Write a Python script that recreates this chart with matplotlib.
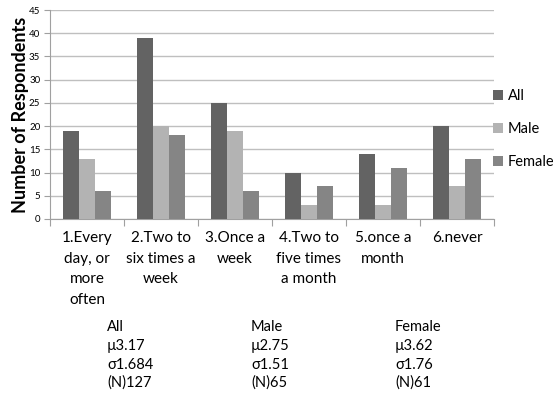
import matplotlib
matplotlib.use("Agg")
import matplotlib.pyplot as plt
import numpy as np

categories = ["1.Every\nday, or\nmore\noften", "2.Two to\nsix times a\nweek", "3.Once a\nweek",
              "4.Two to\nfive times\na month", "5.once a\nmonth", "6.never"]
all_vals = [19, 39, 25, 10, 14, 20]
male_vals = [13, 20, 19, 3, 3, 7]
female_vals = [6, 18, 6, 7, 11, 13]
series_names = ["All", "Male", "Female"]
colors = ["#636363", "#b3b3b3", "#858585"]
stats = [("All", "µ3.17", "σ1.684", "(N)127"),
         ("Male", "µ2.75", "σ1.51", "(N)65"),
         ("Female", "µ3.62", "σ1.76", "(N)61")]

plt.rcParams['font.family'] = ['Lato', 'DejaVu Sans']
fig = plt.figure(figsize=(5.53, 3.94), dpi=100)
ax = fig.add_axes([50/553, 1-219/394, 444/553, 209/394])

x = np.arange(len(categories))
w = 0.22
handles = []
for i, (vals, c, n) in enumerate(zip([all_vals, male_vals, female_vals], colors, series_names)):
    b = ax.bar(x + (i-1)*w, vals, w, color=c, label=n, zorder=3)
    handles.append(b)

ax.set_xlim(-0.5, len(categories)-0.5)
ax.set_ylim(0, 45)
ax.set_yticks(range(0, 46, 5))
ax.yaxis.grid(True, color="#bfbfbf", linewidth=1, zorder=0)
for s in ["top", "right"]:
    ax.spines[s].set_visible(False)
ax.spines["left"].set_color("#a0a0a0")
ax.spines["bottom"].set_color("#a0a0a0")
ax.tick_params(axis="y", labelsize=7, length=4, color="#a0a0a0", pad=3)
ax.set_xticks(np.arange(-0.5, len(categories), 1.0))
ax.set_xticklabels([])
ax.tick_params(axis="x", length=5, color="#a0a0a0", direction="out")
for xi, lab in zip(x, categories):
    ax.text(xi, -2.6, lab, ha="center", va="top", fontsize=11, linespacing=1.6,
            transform=ax.transData, clip_on=False)
ax.set_ylabel("Number of Respondents", fontsize=13, fontweight="bold", labelpad=0)

leg = ax.legend(handles=handles, loc="center left", bbox_to_anchor=(0.995, 0.43), frameon=False,
                fontsize=10.5, handlelength=0.7, handleheight=0.7, labelspacing=1.3,
                handletextpad=0.3, borderaxespad=0.0, borderpad=0.1)

xs = [107, 251, 395]
ys = [327, 346, 365, 383]
for xp, st in zip(xs, stats):
    for yp, t in zip(ys, st):
        fig.text(xp/553, 1-yp/394, t, ha="left", va="center", fontsize=10.5)

fig.savefig("out.png", dpi=100)
